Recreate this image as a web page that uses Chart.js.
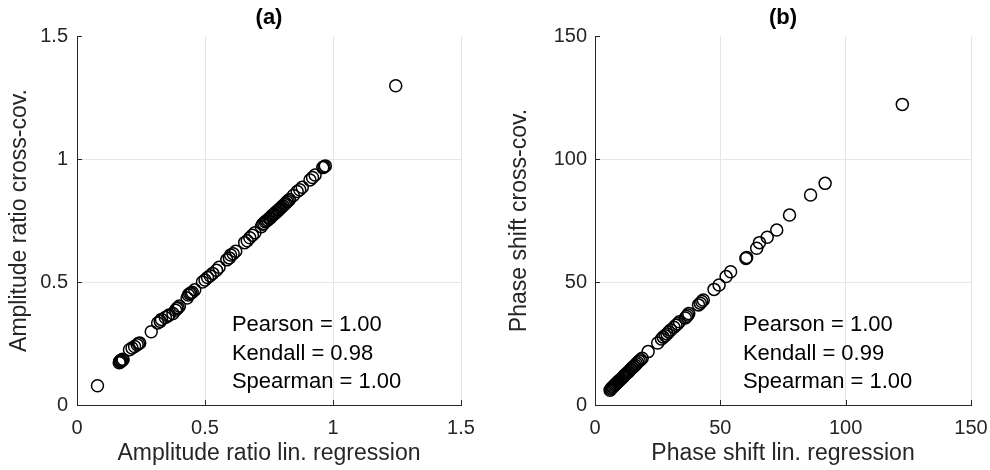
<!DOCTYPE html>
<html>
<head>
<meta charset="utf-8">
<script src="https://cdn.jsdelivr.net/npm/chart.js@4/dist/chart.umd.min.js"></script>
<style>
  html, body { margin: 0; padding: 0; background: #fff; }
  #wrap { position: relative; width: 990px; height: 470px; }
  canvas { position: absolute; top: 0; }
  #chartA { left: 0; }
  #chartB { left: 495px; }
</style>
</head>
<body>
<div id="wrap">
  <canvas id="chartA" width="495" height="470"></canvas>
  <canvas id="chartB" width="495" height="470"></canvas>
</div>
<script>
// Data: panel (a) amplitude ratio
const ampLinReg = [
  0.08,
  0.165, 0.167, 0.170, 0.172, 0.175, 0.178, 0.180,
  0.205, 0.215, 0.225, 0.235, 0.240, 0.245,
  0.290,
  0.315, 0.325, 0.330, 0.345, 0.355, 0.360,
  0.375, 0.385, 0.390, 0.395, 0.400,
  0.430, 0.435, 0.440, 0.445, 0.450, 0.460,
  0.490, 0.500, 0.510, 0.520, 0.530, 0.545, 0.555,
  0.585, 0.595, 0.600, 0.610, 0.620,
  0.655, 0.665, 0.675, 0.685, 0.695,
  0.720, 0.725, 0.730, 0.735, 0.740, 0.745, 0.750, 0.755, 0.760, 0.765, 0.770,
  0.775, 0.780, 0.785, 0.790, 0.795, 0.800, 0.805, 0.810, 0.815, 0.820, 0.825, 0.830,
  0.845, 0.860, 0.870, 0.880,
  0.910, 0.920, 0.930,
  0.960, 0.965, 0.970,
  1.245
];
const ampCrossCov = [
  0.078,
  0.172, 0.178, 0.175, 0.182, 0.180, 0.186, 0.184,
  0.225, 0.232, 0.238, 0.245, 0.250, 0.252,
  0.298,
  0.333, 0.340, 0.348, 0.356, 0.362, 0.366,
  0.372, 0.385, 0.392, 0.395, 0.402,
  0.435, 0.447, 0.452, 0.455, 0.458, 0.468,
  0.500, 0.508, 0.518, 0.525, 0.535, 0.548, 0.560,
  0.590, 0.598, 0.610, 0.615, 0.625,
  0.660, 0.668, 0.680, 0.690, 0.700,
  0.725, 0.735, 0.738, 0.745, 0.748, 0.752, 0.758, 0.760, 0.768, 0.772, 0.775,
  0.782, 0.785, 0.792, 0.795, 0.800, 0.806, 0.810, 0.815, 0.820, 0.826, 0.830, 0.835,
  0.852, 0.868, 0.875, 0.885,
  0.915, 0.925, 0.935,
  0.965, 0.968, 0.972,
  1.298
];

// Data: panel (b) phase shift
const phaseLinReg = [
  6.0, 6.3, 6.6, 7.0, 7.3, 7.7, 8.0, 8.4, 8.8, 9.2, 9.6, 10.0, 10.5, 11.0, 11.4,
  11.8, 12.3, 12.8, 13.3, 13.8, 14.3, 14.8, 15.4, 16.0, 16.5, 17.0, 17.6, 18.2, 18.8,
  21.2, 25.0, 26.5, 27.2, 28.0, 28.7, 29.4, 30.2, 31.5, 32.3, 33.0, 33.7,
  36.0, 36.5, 37.0, 37.4, 41.3, 42.0, 42.6, 43.2,
  47.5, 49.5, 52.3, 54.1, 60.2, 60.5, 64.5, 65.6, 68.7, 72.5, 77.6, 86.0, 91.8,
  122.6
];
const phaseCrossCov = [
  6.0, 6.5, 6.8, 7.2, 7.5, 7.9, 8.3, 8.6, 9.0, 9.5, 9.8, 10.3, 10.7, 11.2, 11.6,
  12.1, 12.5, 13.0, 13.4, 14.0, 14.5, 15.1, 15.6, 16.2, 16.8, 17.3, 17.9, 18.4, 19.0,
  21.7, 25.2, 26.8, 27.6, 28.2, 28.9, 29.7, 30.5, 31.6, 32.4, 33.0, 33.8,
  35.4, 36.0, 36.6, 37.2, 40.7, 41.4, 42.1, 42.7,
  47.0, 48.8, 52.2, 54.2, 59.6, 60.0, 63.7, 66.0, 68.2, 71.1, 77.2, 85.4, 90.1,
  122.2
];

// Labels
const titles = ['(a)', '(b)'];
const xLabels = ['Amplitude ratio lin. regression', 'Phase shift lin. regression'];
const yLabels = ['Amplitude ratio cross-cov.', 'Phase shift cross-cov.'];
const statsA = ['Pearson = 1.00', 'Kendall = 0.98', 'Spearman = 1.00'];
const statsB = ['Pearson = 1.00', 'Kendall = 0.99', 'Spearman = 1.00'];

const FONT = 'Arial, "Liberation Sans", Helvetica, sans-serif';
const AXIS_COLOR = '#262626';
const GRID_COLOR = '#e6e6e6';

// small inward ticks like matlab + stats text
const matlabExtras = {
  id: 'matlabExtras',
  afterDraw(chart, args, opts) {
    const ctx = chart.ctx;
    const xs = chart.scales.x, ys = chart.scales.y;
    const area = chart.chartArea;
    ctx.save();
    ctx.strokeStyle = AXIS_COLOR;
    ctx.lineWidth = 1;
    ctx.beginPath();
    xs.ticks.forEach(t => {
      const px = Math.round(xs.getPixelForValue(t.value)) + 0.5;
      ctx.moveTo(px, area.bottom);
      ctx.lineTo(px, area.bottom - 5);
    });
    ys.ticks.forEach(t => {
      const py = Math.round(ys.getPixelForValue(t.value)) + 0.5;
      ctx.moveTo(area.left, py);
      ctx.lineTo(area.left + 5, py);
    });
    ctx.stroke();

    ctx.fillStyle = '#000';
    ctx.font = '22px ' + FONT;
    ctx.textAlign = 'left';
    ctx.textBaseline = 'middle';
    const x0 = xs.getPixelForValue(opts.at[0]);
    const y0 = ys.getPixelForValue(opts.at[1]);
    opts.lines.forEach((line, i) => {
      ctx.fillText(line, x0, y0 + i * 28.5);
    });
    ctx.restore();
  }
};

function makeChart(canvasId, xs, ys, max, step, idx, stats, statsAt, yAxisWidth, padRight, yTitlePad, yTickPad) {
  const points = xs.map((x, i) => ({ x: x, y: ys[i] }));
  return new Chart(document.getElementById(canvasId), {
    type: 'scatter',
    data: {
      datasets: [{
        data: points,
        pointStyle: 'circle',
        pointRadius: 6,
        pointBorderWidth: 1.5,
        borderColor: '#000',
        backgroundColor: 'rgba(0,0,0,0)'
      }]
    },
    options: {
      responsive: false,
      animation: false,
      devicePixelRatio: 1,
      layout: { padding: { left: 0, right: padRight, top: 0, bottom: 0 } },
      plugins: {
        legend: { display: false },
        tooltip: { enabled: false },
        title: {
          display: true,
          text: titles[idx],
          fullSize: false,
          color: '#000',
          font: { family: FONT, size: 22, weight: 'bold' },
          padding: { top: 5, bottom: 4.6 }
        },
        matlabExtras: { lines: stats, at: statsAt }
      },
      scales: {
        x: {
          type: 'linear',
          min: 0,
          max: max,
          ticks: {
            stepSize: step, color: AXIS_COLOR, font: { family: FONT, size: 20 }, padding: 11,
            callback: v => String(v)
          },
          grid: { color: GRID_COLOR, drawTicks: false },
          border: { display: true, color: AXIS_COLOR, width: 1 },
          title: {
            display: true,
            text: xLabels[idx],
            color: AXIS_COLOR,
            font: { family: FONT, size: 23 },
            padding: { top: 0, bottom: 3 }
          },
          afterFit: s => { s.height = 65; s.paddingLeft = 0; s.paddingRight = 0; }
        },
        y: {
          type: 'linear',
          min: 0,
          max: max,
          ticks: {
            stepSize: step, color: AXIS_COLOR, font: { family: FONT, size: 20 }, padding: yTickPad,
            callback: v => String(v)
          },
          grid: {
            color: ctx => (ctx.tick && ctx.tick.value === max ? 'rgba(0,0,0,0)' : GRID_COLOR),
            drawTicks: false
          },
          border: { display: true, color: AXIS_COLOR, width: 1 },
          title: {
            display: true,
            text: yLabels[idx],
            color: AXIS_COLOR,
            font: { family: FONT, size: 23 },
            padding: { top: yTitlePad, bottom: 0 }
          },
          afterFit: s => { s.width = yAxisWidth; s.paddingTop = 0; s.paddingBottom = 0; }
        }
      }
    },
    plugins: [matlabExtras]
  });
}

makeChart('chartA', ampLinReg, ampCrossCov, 1.5, 0.5, 0, statsA, [0.605, 0.324], 77, 34, 6, 9);
makeChart('chartB', phaseLinReg, phaseCrossCov, 150, 50, 1, statsB, [59, 32.5], 100, 19, 11, 8);
</script>
</body>
</html>
